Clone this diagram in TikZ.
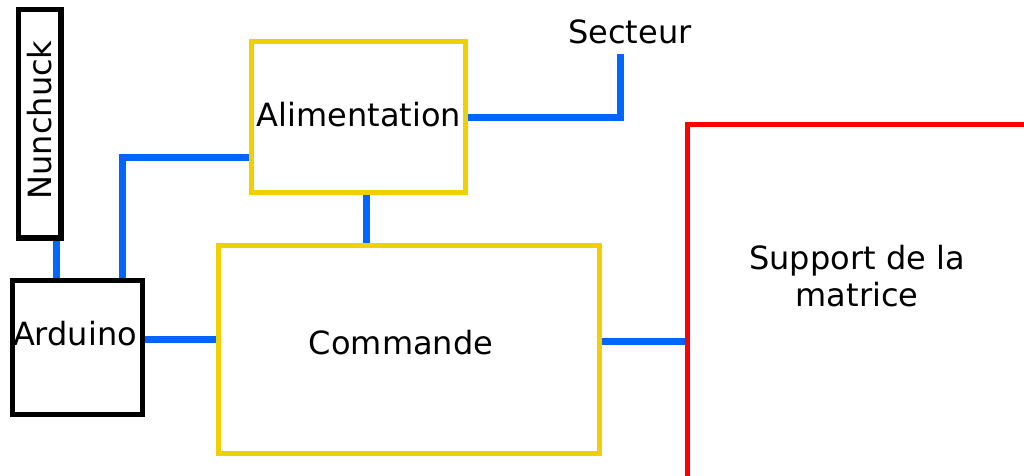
\documentclass[tikz,border=0pt]{standalone}
\usepackage{fontspec}
\setmainfont{DejaVu Sans}
\usetikzlibrary{backgrounds,calc}
\definecolor{wireblue}{RGB}{0,102,255}
\definecolor{boxyellow}{RGB}{240,208,0}
\definecolor{boxred}{RGB}{255,0,0}
\begin{document}
\begin{tikzpicture}[x=1pt,y=-1pt,
  box/.style={draw, line width=5.5pt, fill=white, inner sep=0pt, outer sep=0pt, rectangle},
  blackbox/.style={box, draw=black},
  yellowbox/.style={box, draw=boxyellow, line width=5pt},
  redbox/.style={box, draw=boxred},
  wire/.style={draw=wireblue, line width=7pt},
  lbl/.style={font=\fontsize{32}{37}\selectfont, inner sep=0pt, align=center}]
\useasboundingbox (0,0) rectangle (1024,475);
% boxes
\node[blackbox, minimum width=42.5pt, minimum height=228.5pt] (nun) at (39.75,123.75) {};
\node[blackbox, minimum width=130pt, minimum height=134pt] (ard) at (77.5,347.5) {};
\node[yellowbox, minimum width=214pt, minimum height=151pt] (ali) at (358.5,117) {};
\node[yellowbox, minimum width=381pt, minimum height=208pt] (com) at (409,349.5) {};
\node[redbox, minimum width=360pt, minimum height=380pt] (sup) at (867.5,314.5) {};
% labels
\node[lbl, rotate=90] (tnun) at (40,120) {Nunchuck};
\node[lbl] (tard) at (75,334) {Arduino};
\node[lbl] (tali) at (359,115) {Alimentation};
\node[lbl] (tcom) at (401,343) {Commande};
\node[lbl] (tsup) at (857,276) {Support de la\\matrice};
\node[lbl] (tsec) at (630,32) {Secteur};
% helper coordinates
\coordinate (xa) at (56,0);
\coordinate (xb) at (122,157);
\coordinate (ya) at (0,339);
\coordinate (xc) at (366,0);
\coordinate (sec) at (620,54);
\coordinate (yb) at (0,341);
\begin{scope}[on background layer]
\draw[wire] (nun.south -| xa) -- (ard.north -| xa);
\draw[wire] (ard.north -| xb) |- (ali.west |- xb);
\draw[wire] (ard.east |- ya) -- (com.west |- ya);
\draw[wire] (ali.south -| xc) -- (com.north -| xc);
\draw[wire] (ali.east) -| (sec);
\draw[wire] (com.east |- yb) -- (sup.west |- yb);
\end{scope}
\end{tikzpicture}
\end{document}
